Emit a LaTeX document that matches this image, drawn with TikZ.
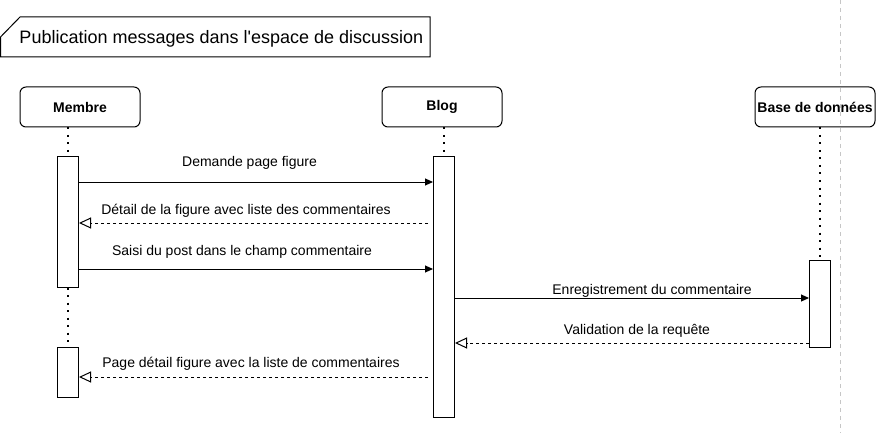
\documentclass[tikz,border=0pt]{standalone}
\usepackage{fontspec}
\setmainfont{Liberation Sans}
\usetikzlibrary{arrows.meta}

\begin{document}
\begin{tikzpicture}[x=1pt,y=-1pt,line width=1pt,
        actor/.style={draw,rounded corners=6pt,minimum width=120pt,minimum height=40pt,inner sep=0pt,font=\fontsize{14}{16}\selectfont\bfseries},
        act/.style={draw,fill=white,minimum width=21pt,inner sep=0pt},
        lifeline/.style={line width=2pt,dash pattern=on 2pt off 5.5pt},
        call/.style={-{Triangle[length=8pt,width=7pt]}},
        reply/.style={dash pattern=on 3pt off 3pt,-{Triangle[open,length=12pt,width=11pt]}},
        lbl/.style={anchor=base,inner sep=0pt,font=\fontsize{14}{16}\selectfont}]
        \useasboundingbox (0,0) rectangle (881,433);
        % frame
        \draw[gray!45,dash pattern=on 4pt off 4pt] (840.5,0) -- (840.5,433);
        \draw (20,17) -- (430,17) -- (430,57) -- (0.5,57) -- (0.5,37) -- cycle;
        \node[anchor=base west,inner sep=0pt,font=\fontsize{18}{20}\selectfont] (title) at (19,43.5) {Publication messages dans l\textquotesingle espace de discussion};
        % actors
        \node[actor] (membre) at (80,107) {Membre};
        \node[actor] (blog) at (442,107) {Blog};
        \node[actor] (bdd) at (815,107) {Base de données};
        % activations
        \node[act,minimum height=130pt] (actM1) at (68,222) {};
        \node[act,minimum height=50pt] (actM2) at (68,372) {};
        \node[act,minimum height=260pt] (actB) at (444,287) {};
        \node[act,minimum height=87pt] (actD) at (820,303.5) {};
        % lifelines
        \draw[lifeline] (actM1.north |- membre.south) -- (actM1.north);
        \draw[lifeline] (actM1.south) -- (actM2.north);
        \draw[lifeline] (actB.north |- blog.south) -- (actB.north);
        \draw[lifeline] (actD.north |- bdd.south) -- (actD.north);
        % messages
        \coordinate (r2) at ([xshift=-5pt]actB.west |- 0,223);
        \coordinate (r6) at ([xshift=-5pt]actB.west |- 0,377);
        \draw[call] (actM1.east |- 0,182) -- (actB.west |- 0,182);
        \draw[reply] (r2) -- (actM1.east |- r2);
        \draw[call] (actM1.east |- 0,269) -- (actB.west |- 0,269);
        \draw[call] (actB.east |- 0,298) -- (actD.west |- 0,298);
        \draw[reply] (actD.west |- 0,343) -- (actB.east |- 0,343);
        \draw[reply] (r6) -- (actM2.east |- r6);
        % text
        \node[lbl] (l1) at (249.5,167) {Demande page figure};
        \node[lbl] (l2) at (246,214) {Détail de la figure avec liste des commentaires};
        \node[lbl] (l3) at (242,255) {Saisi du post dans le champ commentaire};
        \node[lbl] (l4) at (652,294) {Enregistrement du commentaire};
        \node[lbl] (l5) at (637,334) {Validation de la requête};
        \node[lbl] (l6) at (251,367) {Page détail figure avec la liste de commentaires};
    \end{tikzpicture}
\end{document}
